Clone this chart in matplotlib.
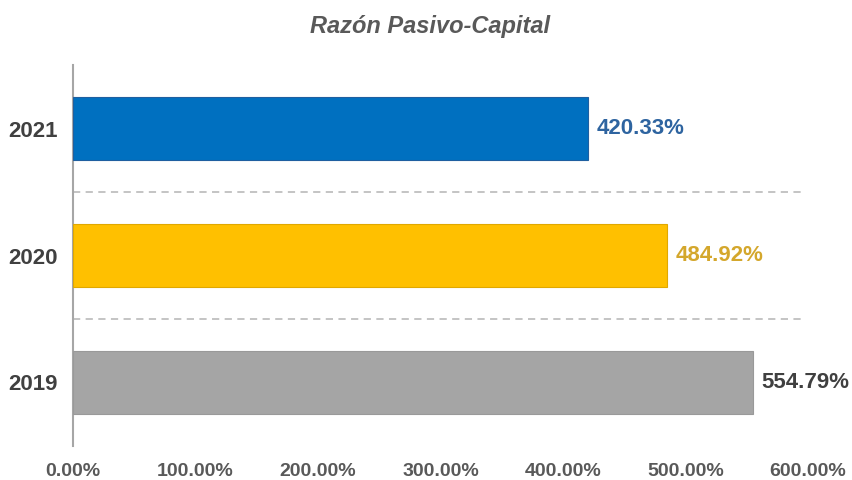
import matplotlib
matplotlib.use("Agg")
import matplotlib.pyplot as plt
from matplotlib.ticker import FuncFormatter

plt.rcParams['font.family'] = ['Liberation Sans', 'DejaVu Sans']

years = ["2019", "2020", "2021"]
values = [554.79, 484.92, 420.33]
bar_colors = ["#A5A5A5", "#FFC000", "#0070C0"]
edge_colors = ["#999999", "#E0A800", "#1F5FA0"]
label_colors = ["#404040", "#D4A72C", "#2E64A0"]
x_ticks = [0, 100, 200, 300, 400, 500, 600]
title = "Razón Pasivo-Capital"

fig = plt.figure(figsize=(8.53, 4.8), dpi=100)
ax = fig.add_axes([73/853, 1-446/480, (808-73)/853, (446-65)/480])

ypos = list(range(len(years)))
ax.barh(ypos, values, height=0.5, color=bar_colors, edgecolor=edge_colors, linewidth=0.8, zorder=3)

for y, v, c in zip(ypos, values, label_colors):
    ax.annotate(f"{v:.2f}%", xy=(v, y), xytext=(6, 0), textcoords="offset points",
                ha="left", va="center", fontsize=16, fontweight="bold", color=c)

# dashed separators between categories
for b in [0.5, 1.5]:
    ax.hlines(b, 0, 595, colors="#BFBFBF", linestyles=(0, (4, 3)), linewidth=1.3, zorder=1)

ax.set_xlim(0, 600)
ax.set_ylim(-0.5, 2.5)
ax.set_xticks(x_ticks)
ax.xaxis.set_major_formatter(FuncFormatter(lambda v, p: f"{v:.2f}%"))
ax.set_yticks(ypos)
ax.set_yticklabels(years)

for lbl in ax.get_xticklabels():
    lbl.set_fontsize(14)
    lbl.set_fontweight("bold")
    lbl.set_color("#595959")
for lbl in ax.get_yticklabels():
    lbl.set_fontsize(16)
    lbl.set_fontweight("bold")
    lbl.set_color("#404040")

ax.tick_params(axis="x", length=0, pad=12)
ax.tick_params(axis="y", length=0, pad=11)

for s in ["top", "right", "bottom"]:
    ax.spines[s].set_visible(False)
ax.spines["left"].set_color("#A6A6A6")
ax.spines["left"].set_linewidth(1.5)

fig.text(430/853, 1-27/480, title, ha="center", va="center", fontsize=17,
         fontweight="bold", fontstyle="italic", color="#595959")

fig.savefig("out.png", dpi=100)
